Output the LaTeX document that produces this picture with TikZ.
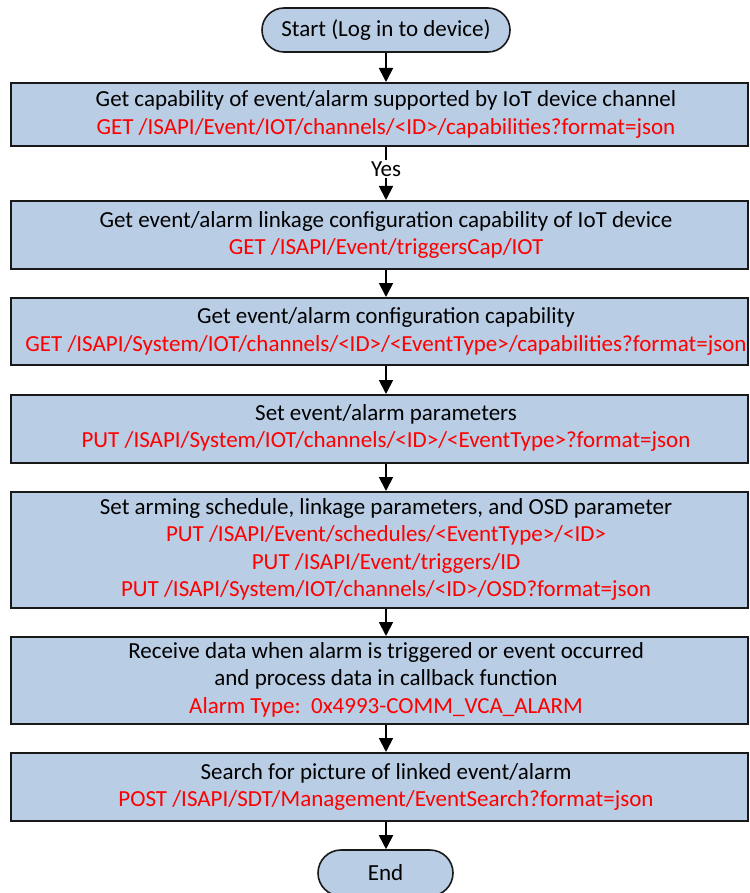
\documentclass[tikz,border=0pt]{standalone}
\usepackage{fontspec}
\setmainfont{Carlito}
\usetikzlibrary{arrows.meta}
\definecolor{boxfill}{RGB}{185,205,229}
\definecolor{apired}{RGB}{255,0,0}
\begin{document}
\begin{tikzpicture}[x=1pt,y=-1pt,
  box/.style={draw=black!90, line width=2pt, fill=boxfill, minimum width=737pt, inner sep=0pt},
  term/.style={draw=black!90, line width=1.6pt, fill=boxfill, inner sep=0pt, align=center, font=\fontsize{23}{27.5}\selectfont},
  txt/.style={align=center, font=\fontsize{23}{27.5}\selectfont, inner sep=0pt},
  arr/.style={line width=1.8pt, draw=black, -{Triangle[width=14pt,length=14pt]}}]
\useasboundingbox (0,0) rectangle (749,893);

% terminals
\node[term, minimum width=248pt, minimum height=44pt, rounded corners=22pt] (start) at (386,30) {Start (Log in to device)};
\node[term, minimum width=135pt, minimum height=46pt, rounded corners=23pt] (end) at (385.5,873) {End};

% boxes
\node[box, minimum height=63pt] (b1) at (379.5,114.5) {};
\node[txt] (t1) at (386,114.5) {Get capability of event/alarm supported by IoT device channel\\
  \textcolor{apired}{GET /ISAPI/Event/IOT/channels/<ID>/capabilities?format=json}};

\node[box, minimum height=68pt] (b2) at (379.5,235) {};
\node[txt] (t2) at (386,235) {Get event/alarm linkage configuration capability of IoT device\\
  \textcolor{apired}{GET /ISAPI/Event/triggersCap/IOT}};

\node[box, minimum height=67pt] (b3) at (379.5,331.5) {};
\node[txt] (t3) at (386,331.5) {Get event/alarm configuration capability\\
  \textcolor{apired}{GET /ISAPI/System/IOT/channels/<ID>/<EventType>/capabilities?format=json}};

\node[box, minimum height=68pt] (b4) at (379.5,429) {};
\node[txt] (t4) at (386,428) {Set event/alarm parameters\\
  \textcolor{apired}{PUT /ISAPI/System/IOT/channels/<ID>/<EventType>?format=json}};

\node[box, minimum height=116pt] (b5) at (379.5,550) {};
\node[txt] (t5) at (386,549.5) {Set arming schedule, linkage parameters, and OSD parameter\\
  \textcolor{apired}{PUT /ISAPI/Event/schedules/<EventType>/<ID>}\\
  \textcolor{apired}{PUT /ISAPI/Event/triggers/ID}\\
  \textcolor{apired}{PUT /ISAPI/System/IOT/channels/<ID>/OSD?format=json}};

\node[box, minimum height=87pt] (b6) at (379.5,680.5) {};
\node[txt] (t6) at (386,679.5) {Receive data when alarm is triggered or event occurred\\
  and process data in callback function\\
  \textcolor{apired}{Alarm Type:\ \ 0x4993-COMM\_VCA\_ALARM}};

\node[box, minimum height=68pt] (b7) at (379.5,787) {};
\node[txt] (t7) at (386,787) {Search for picture of linked event/alarm\\
  \textcolor{apired}{POST /ISAPI/SDT/Management/EventSearch?format=json}};

% connectors
\draw[arr] (start.south) -- (b1.north -| start.south);
\draw[arr] (b1.south -| t1) -- node[pos=0.42, fill=white, inner sep=1.5pt, font=\fontsize{23}{26}\selectfont] (yes) {Yes} (b2.north -| t1);
\draw[arr] (b2.south -| t2) -- (b3.north -| t2);
\draw[arr] (b3.south -| t3) -- (b4.north -| t3);
\draw[arr] (b4.south -| t4) -- (b5.north -| t4);
\draw[arr] (b5.south -| t5) -- (b6.north -| t5);
\draw[arr] (b6.south -| t6) -- (b7.north -| t6);
\draw[arr] (b7.south -| t7) -- (end.north -| t7);
\end{tikzpicture}
\end{document}
